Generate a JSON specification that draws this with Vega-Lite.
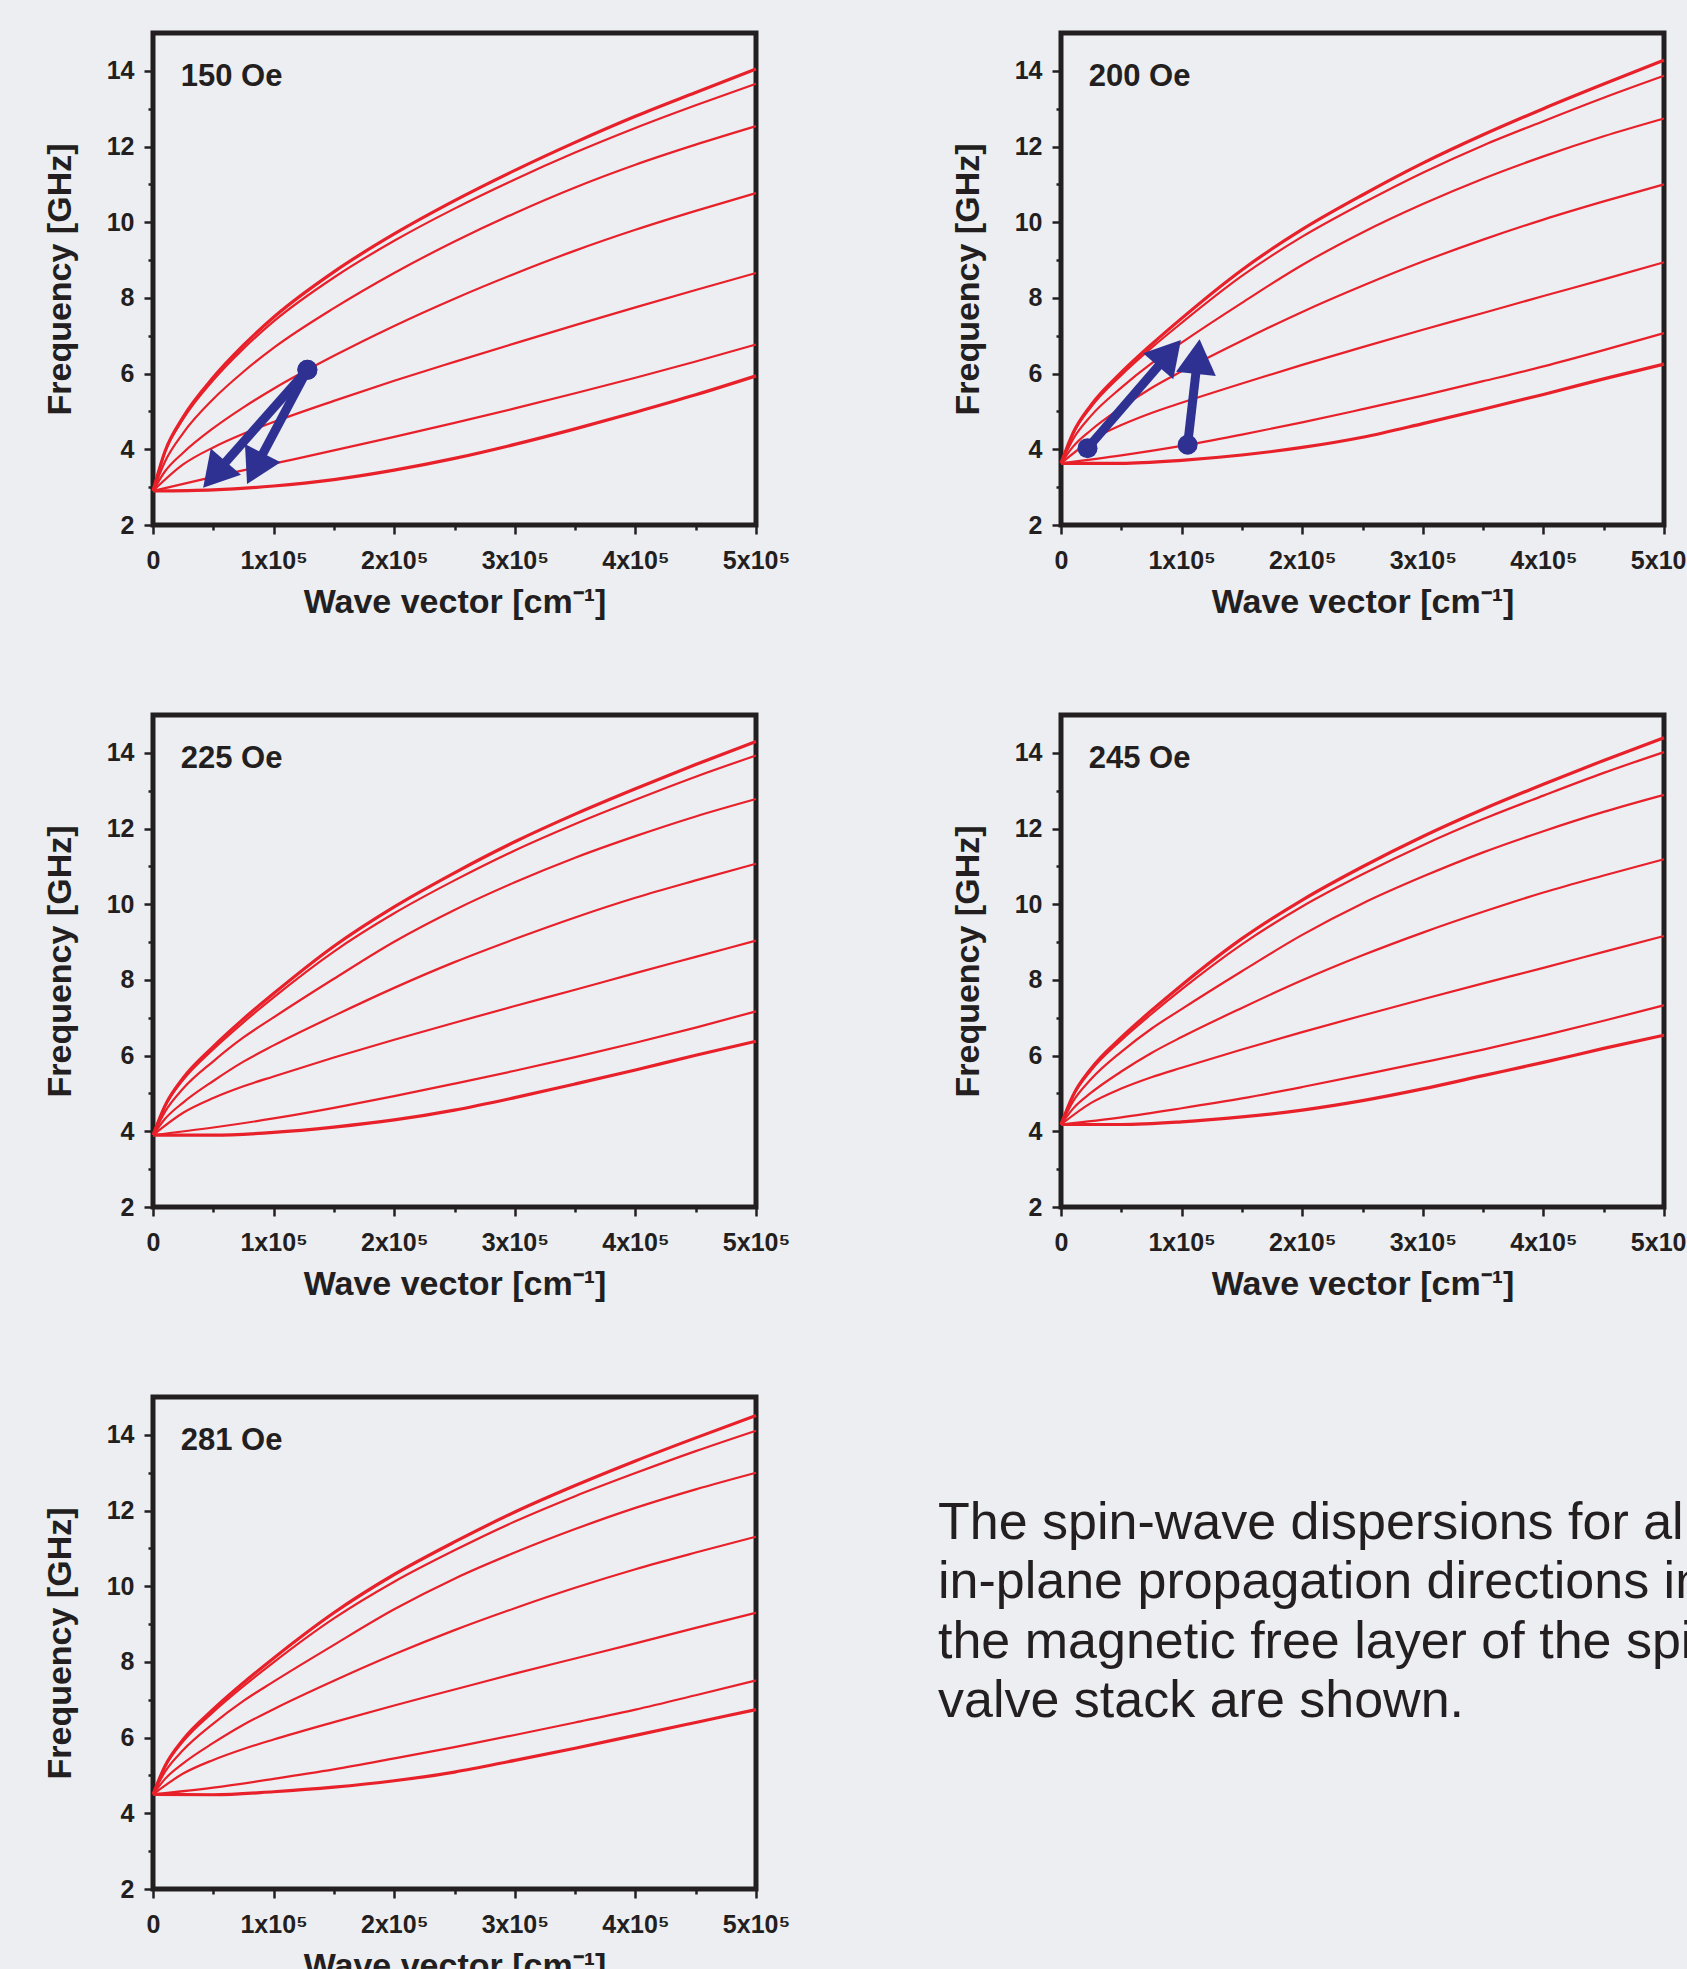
{
"$schema": "https://vega.github.io/schema/vega-lite/v6.json",
"background": "#eceef2",
"padding": {"left": 40, "top": 30, "right": 0, "bottom": 0},
"autosize": {"type": "pad"},
"columns": 2,
"spacing": {"row": 190, "column": 305},
"bounds": "flush",
"datasets": {
"panels": [{"h":150,"label":"150 Oe"},{"h":200,"label":"200 Oe"},{"h":225,"label":"225 Oe"},{"h":245,"label":"245 Oe"},{"h":281,"label":"281 Oe"}],
"arrows": [
{"h":150,"k0":128000,"f0":6.1,"k1":51000,"f1":3.33,"ang":221},
{"h":150,"k0":128000,"f0":6.1,"k1":84500,"f1":3.49,"ang":207},
{"h":200,"k0":22000,"f0":4.03,"k1":90000,"f1":6.54,"ang":41},
{"h":200,"k0":105000,"f0":4.12,"k1":113400,"f1":6.45,"ang":6}
],
"caption": [
{"line":1,"text":"The spin-wave dispersions for all"},
{"line":2,"text":"in-plane propagation directions in"},
{"line":3,"text":"the magnetic free layer of the spin"},
{"line":4,"text":"valve stack are shown."}
],
"curves": [
{"h":150,"c":1,"k":0,"f":2.9},{"h":150,"c":1,"k":10000,"f":3.95},{"h":150,"c":1,"k":25000,"f":4.85},{"h":150,"c":1,"k":50000,"f":5.9},{"h":150,"c":1,"k":75000,"f":6.75},{"h":150,"c":1,"k":100000,"f":7.49},{"h":150,"c":1,"k":150000,"f":8.69},{"h":150,"c":1,"k":200000,"f":9.69},{"h":150,"c":1,"k":250000,"f":10.57},{"h":150,"c":1,"k":300000,"f":11.37},{"h":150,"c":1,"k":350000,"f":12.11},{"h":150,"c":1,"k":400000,"f":12.8},{"h":150,"c":1,"k":450000,"f":13.43},{"h":150,"c":1,"k":500000,"f":14.05},
{"h":150,"c":2,"k":0,"f":2.9},{"h":150,"c":2,"k":10000,"f":3.93},{"h":150,"c":2,"k":25000,"f":4.8},{"h":150,"c":2,"k":50000,"f":5.83},{"h":150,"c":2,"k":75000,"f":6.66},{"h":150,"c":2,"k":100000,"f":7.38},{"h":150,"c":2,"k":150000,"f":8.54},{"h":150,"c":2,"k":200000,"f":9.51},{"h":150,"c":2,"k":250000,"f":10.36},{"h":150,"c":2,"k":300000,"f":11.13},{"h":150,"c":2,"k":350000,"f":11.84},{"h":150,"c":2,"k":400000,"f":12.49},{"h":150,"c":2,"k":450000,"f":13.09},{"h":150,"c":2,"k":500000,"f":13.66},
{"h":150,"c":3,"k":0,"f":2.9},{"h":150,"c":3,"k":10000,"f":3.68},{"h":150,"c":3,"k":25000,"f":4.43},{"h":150,"c":3,"k":50000,"f":5.33},{"h":150,"c":3,"k":75000,"f":6.05},{"h":150,"c":3,"k":100000,"f":6.68},{"h":150,"c":3,"k":150000,"f":7.73},{"h":150,"c":3,"k":200000,"f":8.66},{"h":150,"c":3,"k":250000,"f":9.49},{"h":150,"c":3,"k":300000,"f":10.24},{"h":150,"c":3,"k":350000,"f":10.92},{"h":150,"c":3,"k":400000,"f":11.52},{"h":150,"c":3,"k":450000,"f":12.05},{"h":150,"c":3,"k":500000,"f":12.54},
{"h":150,"c":4,"k":0,"f":2.9},{"h":150,"c":4,"k":10000,"f":3.42},{"h":150,"c":4,"k":25000,"f":3.91},{"h":150,"c":4,"k":50000,"f":4.56},{"h":150,"c":4,"k":75000,"f":5.11},{"h":150,"c":4,"k":100000,"f":5.6},{"h":150,"c":4,"k":150000,"f":6.47},{"h":150,"c":4,"k":200000,"f":7.26},{"h":150,"c":4,"k":250000,"f":7.98},{"h":150,"c":4,"k":300000,"f":8.64},{"h":150,"c":4,"k":350000,"f":9.25},{"h":150,"c":4,"k":400000,"f":9.8},{"h":150,"c":4,"k":450000,"f":10.3},{"h":150,"c":4,"k":500000,"f":10.77},
{"h":150,"c":5,"k":0,"f":2.9},{"h":150,"c":5,"k":25000,"f":3.6},{"h":150,"c":5,"k":50000,"f":4.05},{"h":150,"c":5,"k":75000,"f":4.41},{"h":150,"c":5,"k":100000,"f":4.72},{"h":150,"c":5,"k":150000,"f":5.28},{"h":150,"c":5,"k":200000,"f":5.81},{"h":150,"c":5,"k":250000,"f":6.31},{"h":150,"c":5,"k":300000,"f":6.8},{"h":150,"c":5,"k":350000,"f":7.28},{"h":150,"c":5,"k":400000,"f":7.75},{"h":150,"c":5,"k":450000,"f":8.21},{"h":150,"c":5,"k":500000,"f":8.66},
{"h":150,"c":6,"k":0,"f":2.9},{"h":150,"c":6,"k":50000,"f":3.27},{"h":150,"c":6,"k":100000,"f":3.62},{"h":150,"c":6,"k":150000,"f":3.97},{"h":150,"c":6,"k":200000,"f":4.33},{"h":150,"c":6,"k":250000,"f":4.7},{"h":150,"c":6,"k":300000,"f":5.08},{"h":150,"c":6,"k":350000,"f":5.48},{"h":150,"c":6,"k":400000,"f":5.89},{"h":150,"c":6,"k":450000,"f":6.32},{"h":150,"c":6,"k":500000,"f":6.77},
{"h":150,"c":7,"k":0,"f":2.9},{"h":150,"c":7,"k":50000,"f":2.93},{"h":150,"c":7,"k":100000,"f":3.03},{"h":150,"c":7,"k":150000,"f":3.2},{"h":150,"c":7,"k":200000,"f":3.45},{"h":150,"c":7,"k":250000,"f":3.76},{"h":150,"c":7,"k":300000,"f":4.13},{"h":150,"c":7,"k":350000,"f":4.54},{"h":150,"c":7,"k":400000,"f":4.98},{"h":150,"c":7,"k":450000,"f":5.44},{"h":150,"c":7,"k":500000,"f":5.94},

{"h":200,"c":1,"k":0,"f":3.63},{"h":200,"c":1,"k":10000,"f":4.43},{"h":200,"c":1,"k":25000,"f":5.17},{"h":200,"c":1,"k":50000,"f":6.03},{"h":200,"c":1,"k":75000,"f":6.77},{"h":200,"c":1,"k":100000,"f":7.46},{"h":200,"c":1,"k":150000,"f":8.74},{"h":200,"c":1,"k":200000,"f":9.81},{"h":200,"c":1,"k":250000,"f":10.72},{"h":200,"c":1,"k":300000,"f":11.56},{"h":200,"c":1,"k":350000,"f":12.31},{"h":200,"c":1,"k":400000,"f":13.0},{"h":200,"c":1,"k":450000,"f":13.65},{"h":200,"c":1,"k":500000,"f":14.28},
{"h":200,"c":2,"k":0,"f":3.63},{"h":200,"c":2,"k":10000,"f":4.41},{"h":200,"c":2,"k":25000,"f":5.12},{"h":200,"c":2,"k":50000,"f":5.96},{"h":200,"c":2,"k":75000,"f":6.68},{"h":200,"c":2,"k":100000,"f":7.34},{"h":200,"c":2,"k":150000,"f":8.58},{"h":200,"c":2,"k":200000,"f":9.62},{"h":200,"c":2,"k":250000,"f":10.5},{"h":200,"c":2,"k":300000,"f":11.31},{"h":200,"c":2,"k":350000,"f":12.03},{"h":200,"c":2,"k":400000,"f":12.67},{"h":200,"c":2,"k":450000,"f":13.29},{"h":200,"c":2,"k":500000,"f":13.87},
{"h":200,"c":3,"k":0,"f":3.63},{"h":200,"c":3,"k":10000,"f":4.27},{"h":200,"c":3,"k":25000,"f":4.89},{"h":200,"c":3,"k":50000,"f":5.63},{"h":200,"c":3,"k":75000,"f":6.27},{"h":200,"c":3,"k":100000,"f":6.82},{"h":200,"c":3,"k":150000,"f":7.87},{"h":200,"c":3,"k":200000,"f":8.87},{"h":200,"c":3,"k":250000,"f":9.73},{"h":200,"c":3,"k":300000,"f":10.48},{"h":200,"c":3,"k":350000,"f":11.15},{"h":200,"c":3,"k":400000,"f":11.74},{"h":200,"c":3,"k":450000,"f":12.27},{"h":200,"c":3,"k":500000,"f":12.74},
{"h":200,"c":4,"k":0,"f":3.63},{"h":200,"c":4,"k":10000,"f":4.07},{"h":200,"c":4,"k":25000,"f":4.51},{"h":200,"c":4,"k":50000,"f":5.1},{"h":200,"c":4,"k":75000,"f":5.62},{"h":200,"c":4,"k":100000,"f":6.06},{"h":200,"c":4,"k":150000,"f":6.87},{"h":200,"c":4,"k":200000,"f":7.63},{"h":200,"c":4,"k":250000,"f":8.32},{"h":200,"c":4,"k":300000,"f":8.96},{"h":200,"c":4,"k":350000,"f":9.54},{"h":200,"c":4,"k":400000,"f":10.07},{"h":200,"c":4,"k":450000,"f":10.55},{"h":200,"c":4,"k":500000,"f":11.0},
{"h":200,"c":5,"k":0,"f":3.63},{"h":200,"c":5,"k":25000,"f":4.24},{"h":200,"c":5,"k":50000,"f":4.64},{"h":200,"c":5,"k":75000,"f":4.96},{"h":200,"c":5,"k":100000,"f":5.23},{"h":200,"c":5,"k":150000,"f":5.74},{"h":200,"c":5,"k":200000,"f":6.23},{"h":200,"c":5,"k":250000,"f":6.7},{"h":200,"c":5,"k":300000,"f":7.16},{"h":200,"c":5,"k":350000,"f":7.6},{"h":200,"c":5,"k":400000,"f":8.05},{"h":200,"c":5,"k":450000,"f":8.49},{"h":200,"c":5,"k":500000,"f":8.94},
{"h":200,"c":6,"k":0,"f":3.63},{"h":200,"c":6,"k":50000,"f":3.84},{"h":200,"c":6,"k":100000,"f":4.09},{"h":200,"c":6,"k":150000,"f":4.39},{"h":200,"c":6,"k":200000,"f":4.71},{"h":200,"c":6,"k":250000,"f":5.06},{"h":200,"c":6,"k":300000,"f":5.42},{"h":200,"c":6,"k":350000,"f":5.8},{"h":200,"c":6,"k":400000,"f":6.19},{"h":200,"c":6,"k":450000,"f":6.62},{"h":200,"c":6,"k":500000,"f":7.07},
{"h":200,"c":7,"k":0,"f":3.63},{"h":200,"c":7,"k":50000,"f":3.63},{"h":200,"c":7,"k":100000,"f":3.71},{"h":200,"c":7,"k":150000,"f":3.85},{"h":200,"c":7,"k":200000,"f":4.05},{"h":200,"c":7,"k":250000,"f":4.32},{"h":200,"c":7,"k":300000,"f":4.68},{"h":200,"c":7,"k":350000,"f":5.06},{"h":200,"c":7,"k":400000,"f":5.45},{"h":200,"c":7,"k":450000,"f":5.86},{"h":200,"c":7,"k":500000,"f":6.25},

{"h":225,"c":1,"k":0,"f":3.9},{"h":225,"c":1,"k":10000,"f":4.68},{"h":225,"c":1,"k":25000,"f":5.41},{"h":225,"c":1,"k":50000,"f":6.24},{"h":225,"c":1,"k":75000,"f":6.97},{"h":225,"c":1,"k":100000,"f":7.64},{"h":225,"c":1,"k":150000,"f":8.89},{"h":225,"c":1,"k":200000,"f":9.93},{"h":225,"c":1,"k":250000,"f":10.83},{"h":225,"c":1,"k":300000,"f":11.65},{"h":225,"c":1,"k":350000,"f":12.38},{"h":225,"c":1,"k":400000,"f":13.05},{"h":225,"c":1,"k":450000,"f":13.69},{"h":225,"c":1,"k":500000,"f":14.3},
{"h":225,"c":2,"k":0,"f":3.9},{"h":225,"c":2,"k":10000,"f":4.66},{"h":225,"c":2,"k":25000,"f":5.36},{"h":225,"c":2,"k":50000,"f":6.17},{"h":225,"c":2,"k":75000,"f":6.88},{"h":225,"c":2,"k":100000,"f":7.54},{"h":225,"c":2,"k":150000,"f":8.75},{"h":225,"c":2,"k":200000,"f":9.76},{"h":225,"c":2,"k":250000,"f":10.63},{"h":225,"c":2,"k":300000,"f":11.42},{"h":225,"c":2,"k":350000,"f":12.12},{"h":225,"c":2,"k":400000,"f":12.76},{"h":225,"c":2,"k":450000,"f":13.37},{"h":225,"c":2,"k":500000,"f":13.93},
{"h":225,"c":3,"k":0,"f":3.9},{"h":225,"c":3,"k":10000,"f":4.52},{"h":225,"c":3,"k":25000,"f":5.13},{"h":225,"c":3,"k":50000,"f":5.85},{"h":225,"c":3,"k":75000,"f":6.48},{"h":225,"c":3,"k":100000,"f":7.01},{"h":225,"c":3,"k":150000,"f":8.03},{"h":225,"c":3,"k":200000,"f":9.01},{"h":225,"c":3,"k":250000,"f":9.85},{"h":225,"c":3,"k":300000,"f":10.58},{"h":225,"c":3,"k":350000,"f":11.23},{"h":225,"c":3,"k":400000,"f":11.8},{"h":225,"c":3,"k":450000,"f":12.32},{"h":225,"c":3,"k":500000,"f":12.78},
{"h":225,"c":4,"k":0,"f":3.9},{"h":225,"c":4,"k":10000,"f":4.33},{"h":225,"c":4,"k":25000,"f":4.76},{"h":225,"c":4,"k":50000,"f":5.33},{"h":225,"c":4,"k":75000,"f":5.84},{"h":225,"c":4,"k":100000,"f":6.27},{"h":225,"c":4,"k":150000,"f":7.05},{"h":225,"c":4,"k":200000,"f":7.79},{"h":225,"c":4,"k":250000,"f":8.47},{"h":225,"c":4,"k":300000,"f":9.08},{"h":225,"c":4,"k":350000,"f":9.65},{"h":225,"c":4,"k":400000,"f":10.17},{"h":225,"c":4,"k":450000,"f":10.63},{"h":225,"c":4,"k":500000,"f":11.07},
{"h":225,"c":5,"k":0,"f":3.9},{"h":225,"c":5,"k":25000,"f":4.49},{"h":225,"c":5,"k":50000,"f":4.88},{"h":225,"c":5,"k":75000,"f":5.19},{"h":225,"c":5,"k":100000,"f":5.45},{"h":225,"c":5,"k":150000,"f":5.95},{"h":225,"c":5,"k":200000,"f":6.42},{"h":225,"c":5,"k":250000,"f":6.87},{"h":225,"c":5,"k":300000,"f":7.31},{"h":225,"c":5,"k":350000,"f":7.74},{"h":225,"c":5,"k":400000,"f":8.18},{"h":225,"c":5,"k":450000,"f":8.61},{"h":225,"c":5,"k":500000,"f":9.04},
{"h":225,"c":6,"k":0,"f":3.9},{"h":225,"c":6,"k":50000,"f":4.1},{"h":225,"c":6,"k":100000,"f":4.34},{"h":225,"c":6,"k":150000,"f":4.62},{"h":225,"c":6,"k":200000,"f":4.93},{"h":225,"c":6,"k":250000,"f":5.26},{"h":225,"c":6,"k":300000,"f":5.6},{"h":225,"c":6,"k":350000,"f":5.96},{"h":225,"c":6,"k":400000,"f":6.34},{"h":225,"c":6,"k":450000,"f":6.74},{"h":225,"c":6,"k":500000,"f":7.17},
{"h":225,"c":7,"k":0,"f":3.9},{"h":225,"c":7,"k":50000,"f":3.9},{"h":225,"c":7,"k":100000,"f":3.97},{"h":225,"c":7,"k":150000,"f":4.11},{"h":225,"c":7,"k":200000,"f":4.3},{"h":225,"c":7,"k":250000,"f":4.56},{"h":225,"c":7,"k":300000,"f":4.89},{"h":225,"c":7,"k":350000,"f":5.25},{"h":225,"c":7,"k":400000,"f":5.62},{"h":225,"c":7,"k":450000,"f":6.01},{"h":225,"c":7,"k":500000,"f":6.38},

{"h":245,"c":1,"k":0,"f":4.18},{"h":245,"c":1,"k":10000,"f":4.95},{"h":245,"c":1,"k":25000,"f":5.66},{"h":245,"c":1,"k":50000,"f":6.48},{"h":245,"c":1,"k":75000,"f":7.19},{"h":245,"c":1,"k":100000,"f":7.86},{"h":245,"c":1,"k":150000,"f":9.09},{"h":245,"c":1,"k":200000,"f":10.11},{"h":245,"c":1,"k":250000,"f":10.99},{"h":245,"c":1,"k":300000,"f":11.79},{"h":245,"c":1,"k":350000,"f":12.51},{"h":245,"c":1,"k":400000,"f":13.17},{"h":245,"c":1,"k":450000,"f":13.8},{"h":245,"c":1,"k":500000,"f":14.4},
{"h":245,"c":2,"k":0,"f":4.18},{"h":245,"c":2,"k":10000,"f":4.93},{"h":245,"c":2,"k":25000,"f":5.61},{"h":245,"c":2,"k":50000,"f":6.41},{"h":245,"c":2,"k":75000,"f":7.1},{"h":245,"c":2,"k":100000,"f":7.75},{"h":245,"c":2,"k":150000,"f":8.94},{"h":245,"c":2,"k":200000,"f":9.94},{"h":245,"c":2,"k":250000,"f":10.79},{"h":245,"c":2,"k":300000,"f":11.56},{"h":245,"c":2,"k":350000,"f":12.25},{"h":245,"c":2,"k":400000,"f":12.87},{"h":245,"c":2,"k":450000,"f":13.47},{"h":245,"c":2,"k":500000,"f":14.02},
{"h":245,"c":3,"k":0,"f":4.18},{"h":245,"c":3,"k":10000,"f":4.79},{"h":245,"c":3,"k":25000,"f":5.38},{"h":245,"c":3,"k":50000,"f":6.1},{"h":245,"c":3,"k":75000,"f":6.71},{"h":245,"c":3,"k":100000,"f":7.23},{"h":245,"c":3,"k":150000,"f":8.23},{"h":245,"c":3,"k":200000,"f":9.19},{"h":245,"c":3,"k":250000,"f":10.02},{"h":245,"c":3,"k":300000,"f":10.73},{"h":245,"c":3,"k":350000,"f":11.37},{"h":245,"c":3,"k":400000,"f":11.93},{"h":245,"c":3,"k":450000,"f":12.44},{"h":245,"c":3,"k":500000,"f":12.89},
{"h":245,"c":4,"k":0,"f":4.18},{"h":245,"c":4,"k":10000,"f":4.6},{"h":245,"c":4,"k":25000,"f":5.02},{"h":245,"c":4,"k":50000,"f":5.58},{"h":245,"c":4,"k":75000,"f":6.07},{"h":245,"c":4,"k":100000,"f":6.49},{"h":245,"c":4,"k":150000,"f":7.26},{"h":245,"c":4,"k":200000,"f":7.99},{"h":245,"c":4,"k":250000,"f":8.65},{"h":245,"c":4,"k":300000,"f":9.25},{"h":245,"c":4,"k":350000,"f":9.8},{"h":245,"c":4,"k":400000,"f":10.31},{"h":245,"c":4,"k":450000,"f":10.76},{"h":245,"c":4,"k":500000,"f":11.19},
{"h":245,"c":5,"k":0,"f":4.18},{"h":245,"c":5,"k":25000,"f":4.75},{"h":245,"c":5,"k":50000,"f":5.13},{"h":245,"c":5,"k":75000,"f":5.43},{"h":245,"c":5,"k":100000,"f":5.68},{"h":245,"c":5,"k":150000,"f":6.16},{"h":245,"c":5,"k":200000,"f":6.62},{"h":245,"c":5,"k":250000,"f":7.06},{"h":245,"c":5,"k":300000,"f":7.49},{"h":245,"c":5,"k":350000,"f":7.91},{"h":245,"c":5,"k":400000,"f":8.32},{"h":245,"c":5,"k":450000,"f":8.74},{"h":245,"c":5,"k":500000,"f":9.16},
{"h":245,"c":6,"k":0,"f":4.18},{"h":245,"c":6,"k":50000,"f":4.37},{"h":245,"c":6,"k":100000,"f":4.61},{"h":245,"c":6,"k":150000,"f":4.87},{"h":245,"c":6,"k":200000,"f":5.17},{"h":245,"c":6,"k":250000,"f":5.49},{"h":245,"c":6,"k":300000,"f":5.82},{"h":245,"c":6,"k":350000,"f":6.16},{"h":245,"c":6,"k":400000,"f":6.53},{"h":245,"c":6,"k":450000,"f":6.92},{"h":245,"c":6,"k":500000,"f":7.33},
{"h":245,"c":7,"k":0,"f":4.18},{"h":245,"c":7,"k":50000,"f":4.18},{"h":245,"c":7,"k":100000,"f":4.25},{"h":245,"c":7,"k":150000,"f":4.38},{"h":245,"c":7,"k":200000,"f":4.56},{"h":245,"c":7,"k":250000,"f":4.81},{"h":245,"c":7,"k":300000,"f":5.12},{"h":245,"c":7,"k":350000,"f":5.47},{"h":245,"c":7,"k":400000,"f":5.82},{"h":245,"c":7,"k":450000,"f":6.19},{"h":245,"c":7,"k":500000,"f":6.54},

{"h":281,"c":1,"k":0,"f":4.5},{"h":281,"c":1,"k":10000,"f":5.25},{"h":281,"c":1,"k":25000,"f":5.95},{"h":281,"c":1,"k":50000,"f":6.75},{"h":281,"c":1,"k":75000,"f":7.45},{"h":281,"c":1,"k":100000,"f":8.1},{"h":281,"c":1,"k":150000,"f":9.3},{"h":281,"c":1,"k":200000,"f":10.31},{"h":281,"c":1,"k":250000,"f":11.17},{"h":281,"c":1,"k":300000,"f":11.96},{"h":281,"c":1,"k":350000,"f":12.66},{"h":281,"c":1,"k":400000,"f":13.31},{"h":281,"c":1,"k":450000,"f":13.92},{"h":281,"c":1,"k":500000,"f":14.51},
{"h":281,"c":2,"k":0,"f":4.5},{"h":281,"c":2,"k":10000,"f":5.23},{"h":281,"c":2,"k":25000,"f":5.9},{"h":281,"c":2,"k":50000,"f":6.68},{"h":281,"c":2,"k":75000,"f":7.36},{"h":281,"c":2,"k":100000,"f":7.99},{"h":281,"c":2,"k":150000,"f":9.15},{"h":281,"c":2,"k":200000,"f":10.12},{"h":281,"c":2,"k":250000,"f":10.95},{"h":281,"c":2,"k":300000,"f":11.71},{"h":281,"c":2,"k":350000,"f":12.38},{"h":281,"c":2,"k":400000,"f":12.99},{"h":281,"c":2,"k":450000,"f":13.57},{"h":281,"c":2,"k":500000,"f":14.11},
{"h":281,"c":3,"k":0,"f":4.5},{"h":281,"c":3,"k":10000,"f":5.1},{"h":281,"c":3,"k":25000,"f":5.67},{"h":281,"c":3,"k":50000,"f":6.37},{"h":281,"c":3,"k":75000,"f":6.97},{"h":281,"c":3,"k":100000,"f":7.48},{"h":281,"c":3,"k":150000,"f":8.45},{"h":281,"c":3,"k":200000,"f":9.39},{"h":281,"c":3,"k":250000,"f":10.2},{"h":281,"c":3,"k":300000,"f":10.89},{"h":281,"c":3,"k":350000,"f":11.51},{"h":281,"c":3,"k":400000,"f":12.07},{"h":281,"c":3,"k":450000,"f":12.56},{"h":281,"c":3,"k":500000,"f":13.0},
{"h":281,"c":4,"k":0,"f":4.5},{"h":281,"c":4,"k":10000,"f":4.91},{"h":281,"c":4,"k":25000,"f":5.32},{"h":281,"c":4,"k":50000,"f":5.86},{"h":281,"c":4,"k":75000,"f":6.34},{"h":281,"c":4,"k":100000,"f":6.75},{"h":281,"c":4,"k":150000,"f":7.5},{"h":281,"c":4,"k":200000,"f":8.2},{"h":281,"c":4,"k":250000,"f":8.84},{"h":281,"c":4,"k":300000,"f":9.42},{"h":281,"c":4,"k":350000,"f":9.96},{"h":281,"c":4,"k":400000,"f":10.45},{"h":281,"c":4,"k":450000,"f":10.89},{"h":281,"c":4,"k":500000,"f":11.31},
{"h":281,"c":5,"k":0,"f":4.5},{"h":281,"c":5,"k":25000,"f":5.05},{"h":281,"c":5,"k":50000,"f":5.41},{"h":281,"c":5,"k":75000,"f":5.7},{"h":281,"c":5,"k":100000,"f":5.95},{"h":281,"c":5,"k":150000,"f":6.41},{"h":281,"c":5,"k":200000,"f":6.85},{"h":281,"c":5,"k":250000,"f":7.27},{"h":281,"c":5,"k":300000,"f":7.69},{"h":281,"c":5,"k":350000,"f":8.09},{"h":281,"c":5,"k":400000,"f":8.49},{"h":281,"c":5,"k":450000,"f":8.9},{"h":281,"c":5,"k":500000,"f":9.3},
{"h":281,"c":6,"k":0,"f":4.5},{"h":281,"c":6,"k":50000,"f":4.68},{"h":281,"c":6,"k":100000,"f":4.91},{"h":281,"c":6,"k":150000,"f":5.16},{"h":281,"c":6,"k":200000,"f":5.45},{"h":281,"c":6,"k":250000,"f":5.75},{"h":281,"c":6,"k":300000,"f":6.07},{"h":281,"c":6,"k":350000,"f":6.4},{"h":281,"c":6,"k":400000,"f":6.74},{"h":281,"c":6,"k":450000,"f":7.12},{"h":281,"c":6,"k":500000,"f":7.51},
{"h":281,"c":7,"k":0,"f":4.5},{"h":281,"c":7,"k":50000,"f":4.49},{"h":281,"c":7,"k":100000,"f":4.57},{"h":281,"c":7,"k":150000,"f":4.69},{"h":281,"c":7,"k":200000,"f":4.86},{"h":281,"c":7,"k":250000,"f":5.09},{"h":281,"c":7,"k":300000,"f":5.4},{"h":281,"c":7,"k":350000,"f":5.72},{"h":281,"c":7,"k":400000,"f":6.06},{"h":281,"c":7,"k":450000,"f":6.4},{"h":281,"c":7,"k":500000,"f":6.74}
]
},
"concat": [
{
"width": 603, "height": 492,
"layer": [
{"data": {"name": "curves"}, "transform": [{"filter": "datum.h == 150"}],
 "mark": {"type": "line", "interpolate": "monotone", "color": "#e8202a"},
 "encoding": {
  "x": {"field": "k", "type": "quantitative", "scale": {"domain": [0, 500000], "nice": false}, "axis": {"title": "Wave vector [cm⁻¹]", "values": [0,50000,100000,150000,200000,250000,300000,350000,400000,450000,500000], "labelExpr": "datum.value == 0 ? '0' : (datum.value % 100000 == 0 ? (datum.value / 100000) + 'x10⁵' : '')", "tickSize": {"condition": {"test": "datum.value % 100000 == 0", "value": 9}, "value": 5}}},
  "y": {"field": "f", "type": "quantitative", "scale": {"domain": [2, 15], "nice": false, "zero": false}, "axis": {"title": "Frequency [GHz]", "values": [2,3,4,5,6,7,8,9,10,11,12,13,14], "labelExpr": "datum.value % 2 == 0 ? datum.label : ''", "tickSize": {"condition": {"test": "datum.value % 2 == 0", "value": 9}, "value": 5}}},
  "detail": {"field": "c", "type": "nominal"},
  "strokeWidth": {"condition": {"test": "datum.c == 1 || datum.c == 7", "value": 3.2}, "value": 2.2}
 }},
{"data": {"name": "arrows"}, "transform": [{"filter": "datum.h == 150"}],
 "mark": {"type": "rule", "color": "#2e3192", "strokeWidth": 9},
 "encoding": {"x": {"field": "k0", "type": "quantitative"}, "y": {"field": "f0", "type": "quantitative"}, "x2": {"field": "k1"}, "y2": {"field": "f1"}}},
{"data": {"name": "arrows"}, "transform": [{"filter": "datum.h == 150"}],
 "mark": {"type": "point", "shape": "circle", "filled": true, "color": "#2e3192", "size": 400, "opacity": 1},
 "encoding": {"x": {"field": "k0", "type": "quantitative"}, "y": {"field": "f0", "type": "quantitative"}}},
{"data": {"name": "arrows"}, "transform": [{"filter": "datum.h == 150"}],
 "mark": {"type": "point", "shape": "triangle-up", "filled": true, "color": "#2e3192", "size": 1600, "opacity": 1},
 "encoding": {"x": {"field": "k1", "type": "quantitative"}, "y": {"field": "f1", "type": "quantitative"}, "angle": {"field": "ang", "type": "quantitative", "scale": null}}},
{"data": {"name": "panels"}, "transform": [{"filter": "datum.h == 150"}],
 "mark": {"type": "text", "align": "left", "baseline": "alphabetic", "fontSize": 31, "fontWeight": "bold", "font": "Liberation Sans", "color": "#231f20"},
 "encoding": {"x": {"datum": 23000, "type": "quantitative"}, "y": {"datum": 13.6, "type": "quantitative"}, "text": {"field": "label"}}}
]
},
{
"width": 603, "height": 492,
"layer": [
{"data": {"name": "curves"}, "transform": [{"filter": "datum.h == 200"}],
 "mark": {"type": "line", "interpolate": "monotone", "color": "#e8202a"},
 "encoding": {
  "x": {"field": "k", "type": "quantitative", "scale": {"domain": [0, 500000], "nice": false}, "axis": {"title": "Wave vector [cm⁻¹]", "values": [0,50000,100000,150000,200000,250000,300000,350000,400000,450000,500000], "labelExpr": "datum.value == 0 ? '0' : (datum.value % 100000 == 0 ? (datum.value / 100000) + 'x10⁵' : '')", "tickSize": {"condition": {"test": "datum.value % 100000 == 0", "value": 9}, "value": 5}}},
  "y": {"field": "f", "type": "quantitative", "scale": {"domain": [2, 15], "nice": false, "zero": false}, "axis": {"title": "Frequency [GHz]", "values": [2,3,4,5,6,7,8,9,10,11,12,13,14], "labelExpr": "datum.value % 2 == 0 ? datum.label : ''", "tickSize": {"condition": {"test": "datum.value % 2 == 0", "value": 9}, "value": 5}}},
  "detail": {"field": "c", "type": "nominal"},
  "strokeWidth": {"condition": {"test": "datum.c == 1 || datum.c == 7", "value": 3.2}, "value": 2.2}
 }},
{"data": {"name": "arrows"}, "transform": [{"filter": "datum.h == 200"}],
 "mark": {"type": "rule", "color": "#2e3192", "strokeWidth": 9},
 "encoding": {"x": {"field": "k0", "type": "quantitative"}, "y": {"field": "f0", "type": "quantitative"}, "x2": {"field": "k1"}, "y2": {"field": "f1"}}},
{"data": {"name": "arrows"}, "transform": [{"filter": "datum.h == 200"}],
 "mark": {"type": "point", "shape": "circle", "filled": true, "color": "#2e3192", "size": 400, "opacity": 1},
 "encoding": {"x": {"field": "k0", "type": "quantitative"}, "y": {"field": "f0", "type": "quantitative"}}},
{"data": {"name": "arrows"}, "transform": [{"filter": "datum.h == 200"}],
 "mark": {"type": "point", "shape": "triangle-up", "filled": true, "color": "#2e3192", "size": 1600, "opacity": 1},
 "encoding": {"x": {"field": "k1", "type": "quantitative"}, "y": {"field": "f1", "type": "quantitative"}, "angle": {"field": "ang", "type": "quantitative", "scale": null}}},
{"data": {"name": "panels"}, "transform": [{"filter": "datum.h == 200"}],
 "mark": {"type": "text", "align": "left", "baseline": "alphabetic", "fontSize": 31, "fontWeight": "bold", "font": "Liberation Sans", "color": "#231f20"},
 "encoding": {"x": {"datum": 23000, "type": "quantitative"}, "y": {"datum": 13.6, "type": "quantitative"}, "text": {"field": "label"}}}
]
},
{
"width": 603, "height": 492,
"layer": [
{"data": {"name": "curves"}, "transform": [{"filter": "datum.h == 225"}],
 "mark": {"type": "line", "interpolate": "monotone", "color": "#e8202a"},
 "encoding": {
  "x": {"field": "k", "type": "quantitative", "scale": {"domain": [0, 500000], "nice": false}, "axis": {"title": "Wave vector [cm⁻¹]", "values": [0,50000,100000,150000,200000,250000,300000,350000,400000,450000,500000], "labelExpr": "datum.value == 0 ? '0' : (datum.value % 100000 == 0 ? (datum.value / 100000) + 'x10⁵' : '')", "tickSize": {"condition": {"test": "datum.value % 100000 == 0", "value": 9}, "value": 5}}},
  "y": {"field": "f", "type": "quantitative", "scale": {"domain": [2, 15], "nice": false, "zero": false}, "axis": {"title": "Frequency [GHz]", "values": [2,3,4,5,6,7,8,9,10,11,12,13,14], "labelExpr": "datum.value % 2 == 0 ? datum.label : ''", "tickSize": {"condition": {"test": "datum.value % 2 == 0", "value": 9}, "value": 5}}},
  "detail": {"field": "c", "type": "nominal"},
  "strokeWidth": {"condition": {"test": "datum.c == 1 || datum.c == 7", "value": 3.2}, "value": 2.2}
 }},
{"data": {"name": "panels"}, "transform": [{"filter": "datum.h == 225"}],
 "mark": {"type": "text", "align": "left", "baseline": "alphabetic", "fontSize": 31, "fontWeight": "bold", "font": "Liberation Sans", "color": "#231f20"},
 "encoding": {"x": {"datum": 23000, "type": "quantitative"}, "y": {"datum": 13.6, "type": "quantitative"}, "text": {"field": "label"}}}
]
},
{
"width": 603, "height": 492,
"layer": [
{"data": {"name": "curves"}, "transform": [{"filter": "datum.h == 245"}],
 "mark": {"type": "line", "interpolate": "monotone", "color": "#e8202a"},
 "encoding": {
  "x": {"field": "k", "type": "quantitative", "scale": {"domain": [0, 500000], "nice": false}, "axis": {"title": "Wave vector [cm⁻¹]", "values": [0,50000,100000,150000,200000,250000,300000,350000,400000,450000,500000], "labelExpr": "datum.value == 0 ? '0' : (datum.value % 100000 == 0 ? (datum.value / 100000) + 'x10⁵' : '')", "tickSize": {"condition": {"test": "datum.value % 100000 == 0", "value": 9}, "value": 5}}},
  "y": {"field": "f", "type": "quantitative", "scale": {"domain": [2, 15], "nice": false, "zero": false}, "axis": {"title": "Frequency [GHz]", "values": [2,3,4,5,6,7,8,9,10,11,12,13,14], "labelExpr": "datum.value % 2 == 0 ? datum.label : ''", "tickSize": {"condition": {"test": "datum.value % 2 == 0", "value": 9}, "value": 5}}},
  "detail": {"field": "c", "type": "nominal"},
  "strokeWidth": {"condition": {"test": "datum.c == 1 || datum.c == 7", "value": 3.2}, "value": 2.2}
 }},
{"data": {"name": "panels"}, "transform": [{"filter": "datum.h == 245"}],
 "mark": {"type": "text", "align": "left", "baseline": "alphabetic", "fontSize": 31, "fontWeight": "bold", "font": "Liberation Sans", "color": "#231f20"},
 "encoding": {"x": {"datum": 23000, "type": "quantitative"}, "y": {"datum": 13.6, "type": "quantitative"}, "text": {"field": "label"}}}
]
},
{
"width": 603, "height": 492,
"layer": [
{"data": {"name": "curves"}, "transform": [{"filter": "datum.h == 281"}],
 "mark": {"type": "line", "interpolate": "monotone", "color": "#e8202a"},
 "encoding": {
  "x": {"field": "k", "type": "quantitative", "scale": {"domain": [0, 500000], "nice": false}, "axis": {"title": "Wave vector [cm⁻¹]", "values": [0,50000,100000,150000,200000,250000,300000,350000,400000,450000,500000], "labelExpr": "datum.value == 0 ? '0' : (datum.value % 100000 == 0 ? (datum.value / 100000) + 'x10⁵' : '')", "tickSize": {"condition": {"test": "datum.value % 100000 == 0", "value": 9}, "value": 5}}},
  "y": {"field": "f", "type": "quantitative", "scale": {"domain": [2, 15], "nice": false, "zero": false}, "axis": {"title": "Frequency [GHz]", "values": [2,3,4,5,6,7,8,9,10,11,12,13,14], "labelExpr": "datum.value % 2 == 0 ? datum.label : ''", "tickSize": {"condition": {"test": "datum.value % 2 == 0", "value": 9}, "value": 5}}},
  "detail": {"field": "c", "type": "nominal"},
  "strokeWidth": {"condition": {"test": "datum.c == 1 || datum.c == 7", "value": 3.2}, "value": 2.2}
 }},
{"data": {"name": "panels"}, "transform": [{"filter": "datum.h == 281"}],
 "mark": {"type": "text", "align": "left", "baseline": "alphabetic", "fontSize": 31, "fontWeight": "bold", "font": "Liberation Sans", "color": "#231f20"},
 "encoding": {"x": {"datum": 23000, "type": "quantitative"}, "y": {"datum": 13.6, "type": "quantitative"}, "text": {"field": "label"}}}
]
},
{
"width": 603, "height": 492,
"view": {"stroke": null},
"data": {"name": "caption"},
"mark": {"type": "text", "align": "left", "baseline": "alphabetic", "fontSize": 52, "font": "Liberation Sans", "color": "#231f20"},
"encoding": {
 "x": {"datum": 0, "type": "quantitative", "scale": {"domain": [0.204, 1.204], "nice": false, "zero": false}, "axis": null},
 "y": {"field": "line", "type": "quantitative", "scale": {"domain": [-1.395, 6.902], "reverse": true, "nice": false, "zero": false}, "axis": null},
 "text": {"field": "text"}
}
}
],
"config": {
 "view": {"stroke": "#231f20", "strokeWidth": 5},
 "axis": {"labelFont": "Liberation Sans", "labelFontSize": 25, "labelFontWeight": "bold", "labelColor": "#231f20", "titleFont": "Liberation Sans", "titleFontSize": 34, "titleFontWeight": "bold", "titleColor": "#231f20", "tickColor": "#231f20", "tickWidth": 2.5, "grid": false, "domain": false, "labelOverlap": false, "labelFlush": false, "labelBound": false},
 "axisX": {"labelPadding": 14, "titlePadding": 12},
 "axisY": {"labelPadding": 10, "titlePadding": 29}
}
}
